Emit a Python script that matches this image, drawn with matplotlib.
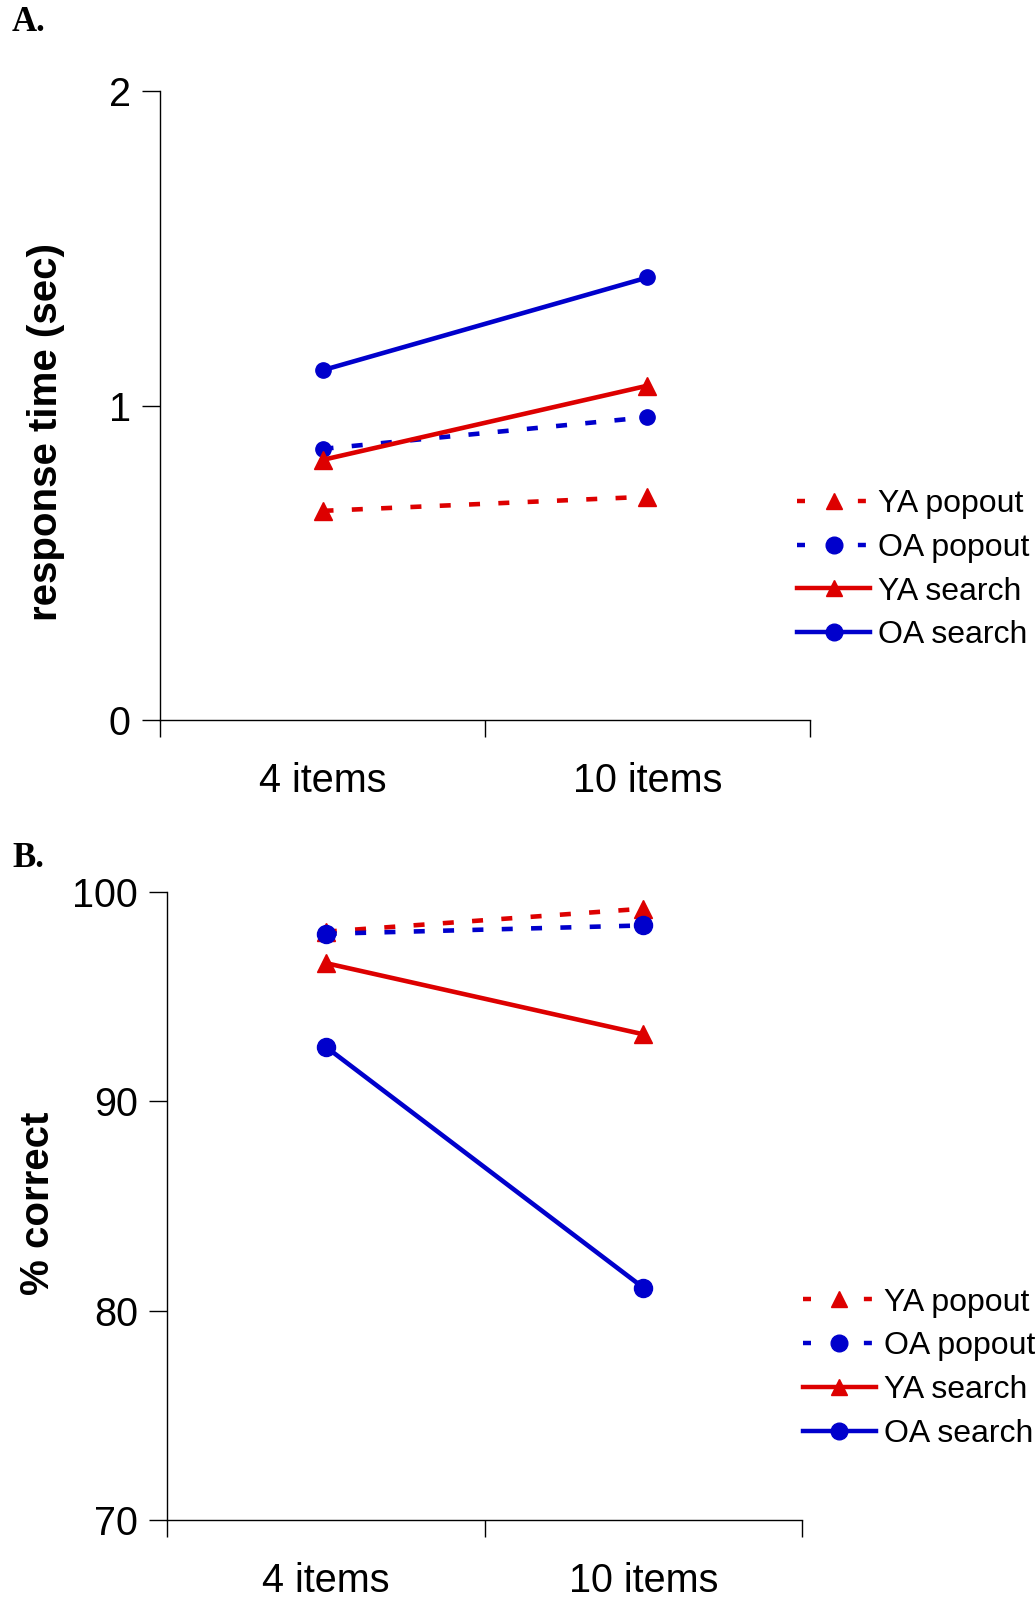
import matplotlib
matplotlib.use('Agg')
import matplotlib.pyplot as plt
from matplotlib.lines import Line2D

plt.rcParams['font.family'] = ['Liberation Sans', 'DejaVu Sans']

# data
categories = ['4 items', '10 items']
series = ['YA popout', 'OA popout', 'YA search', 'OA search']

rt_ya_popout = [0.665, 0.710]
rt_oa_popout = [0.862, 0.963]
rt_ya_search = [0.827, 1.063]
rt_oa_search = [1.112, 1.407]

pc_ya_popout = [98.1, 99.2]
pc_oa_popout = [98.0, 98.4]
pc_ya_search = [96.6, 93.2]
pc_oa_search = [92.6, 81.1]

RED = '#DD0000'
BLUE = '#0000CC'
DASH = (0, (2.4, 4.0))
styles = [
    dict(color=RED, ls=DASH, marker='^'),
    dict(color=BLUE, ls=DASH, marker='o'),
    dict(color=RED, ls='-', marker='^'),
    dict(color=BLUE, ls='-', marker='o'),
]

fig = plt.figure(figsize=(10.35, 15.99), dpi=100)
fig.set_facecolor('white')

axA = fig.add_axes([0.1546, 0.5497, 0.628, 0.3934])
axB = fig.add_axes([0.1614, 0.0494, 0.6135, 0.3928])

xpos = [0.5, 1.5]


def setup(ax, ylim, yticks):
    ax.set_xlim(0, 2)
    ax.set_ylim(*ylim)
    ax.set_yticks(yticks)
    ax.set_xticks([0, 1, 2])
    ax.set_xticklabels([])
    ax.set_xticks(xpos, minor=True)
    ax.set_xticklabels(categories, minor=True)
    ax.tick_params(axis='x', which='major', direction='out', length=12, width=1)
    ax.tick_params(axis='x', which='minor', length=0, pad=30, labelsize=28.5)
    ax.tick_params(axis='y', direction='out', length=13, width=1, pad=8, labelsize=28.5)
    for s in ['top', 'right']:
        ax.spines[s].set_visible(False)
    for s in ['left', 'bottom']:
        ax.spines[s].set_linewidth(1)


setup(axA, (0, 2), [0, 1, 2])
setup(axB, (70, 100), [70, 80, 90, 100])

dataA = [rt_ya_popout, rt_oa_popout, rt_ya_search, rt_oa_search]
dataB = [pc_ya_popout, pc_oa_popout, pc_ya_search, pc_oa_search]

for vals, st in zip(dataA, styles):
    ms = 11 if st['marker'] == 'o' else 12.5
    axA.plot(xpos, vals, color=st['color'], ls=st['ls'], lw=3.3, marker=st['marker'],
             ms=ms, mec=st['color'], mfc=st['color'], clip_on=False)

for vals, st in zip(dataB, styles):
    ms = 13 if st['marker'] == 'o' else 12.5
    axB.plot(xpos, vals, color=st['color'], ls=st['ls'], lw=3.3, marker=st['marker'],
             ms=ms, mec=st['color'], mfc=st['color'], clip_on=False)


def make_handles():
    hs = []
    for st in styles:
        ls = (0, (1.8, 11.9)) if st['ls'] != '-' else '-'
        hs.append(Line2D([], [], color=st['color'], ls=ls, lw=3.2, marker=st['marker'],
                         ms=12, mec=st['color'], mfc=st['color']))
    return hs


legA = fig.legend(make_handles(), series, loc='center left', bbox_to_anchor=(0.770, 0.6437),
                  frameon=False, borderaxespad=0, borderpad=0, fontsize=23,
                  handlelength=2.3, handletextpad=0.25, labelspacing=0.43)
legB = fig.legend(make_handles(), series, loc='center left', bbox_to_anchor=(0.7754, 0.1443),
                  frameon=False, borderaxespad=0, borderpad=0, fontsize=23,
                  handlelength=2.3, handletextpad=0.25, labelspacing=0.43)

fig.text(0.0444, 0.7298, 'response time (sec)', rotation=90, ha='center', va='center',
         fontsize=29, fontweight='bold')
fig.text(0.0367, 0.2477, '% correct', rotation=90, ha='center', va='center',
         fontsize=29, fontweight='bold')

fig.text(0.0116, 0.986, 'A.', ha='left', va='center', fontsize=25, fontweight='bold',
         family=['Liberation Serif', 'DejaVu Serif'])
fig.text(0.0116, 0.463, 'B.', ha='left', va='center', fontsize=25, fontweight='bold',
         family=['Liberation Serif', 'DejaVu Serif'])

plt.savefig('out.png', dpi=100, facecolor='white')
